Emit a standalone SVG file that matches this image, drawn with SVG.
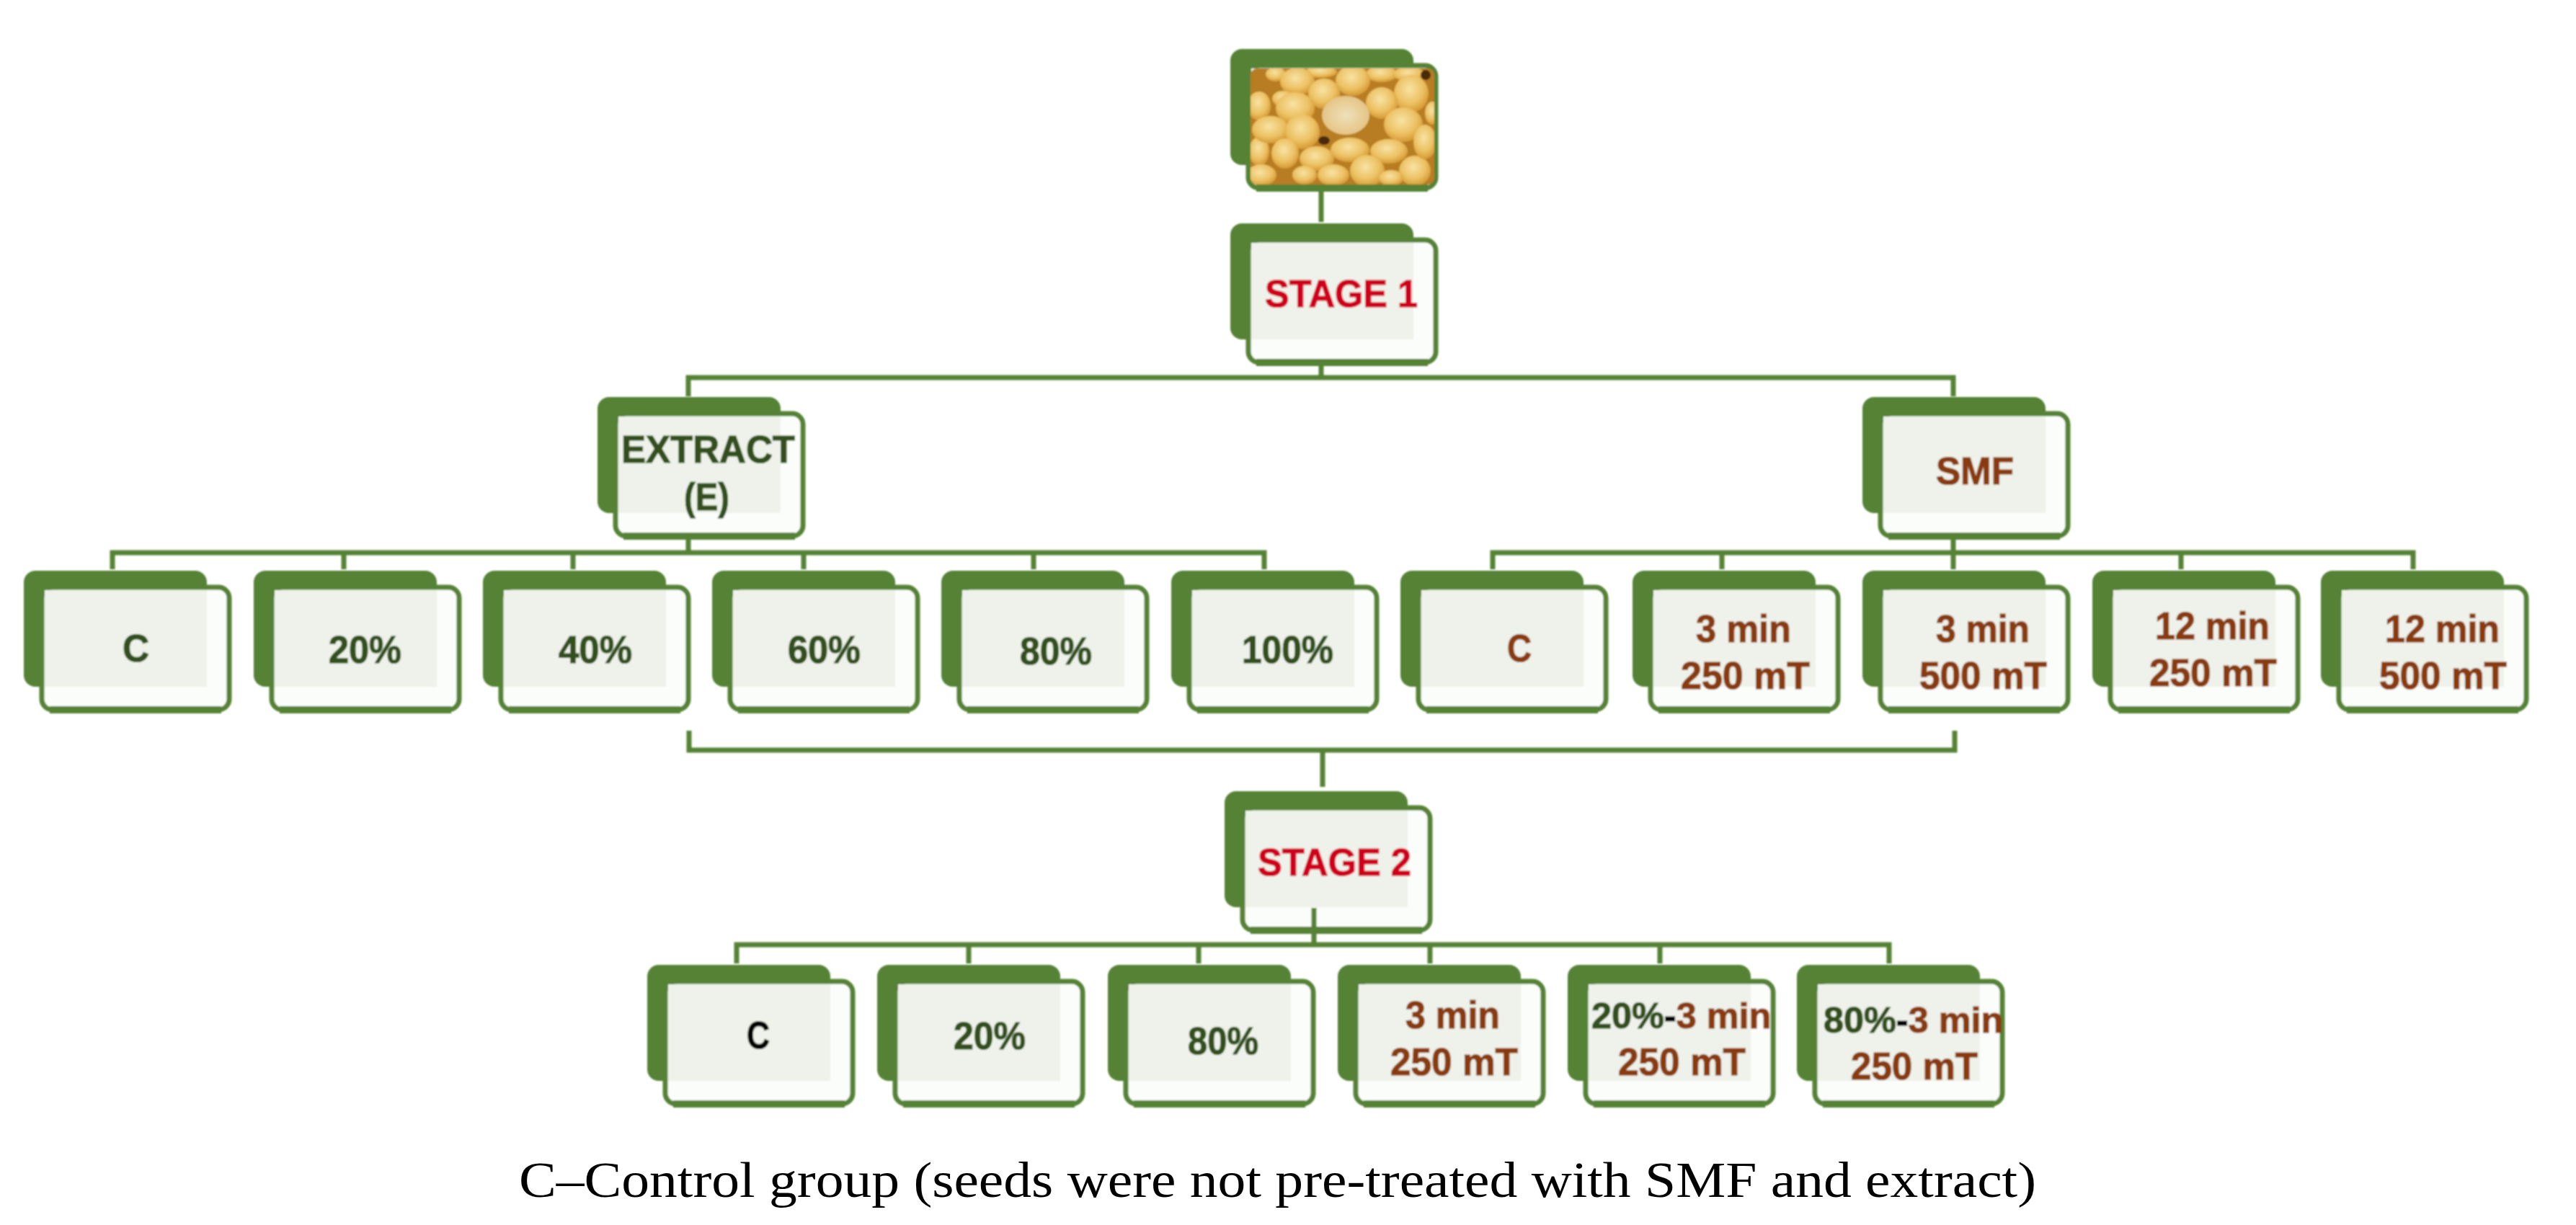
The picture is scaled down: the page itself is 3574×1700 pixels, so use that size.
<svg xmlns="http://www.w3.org/2000/svg" width="3574" height="1700" viewBox="0 0 3574 1700">
<style>
text{font-family:"Liberation Sans",Arial,sans-serif;font-weight:700;font-size:54px;stroke-width:1.2px;paint-order:stroke}
text.mix{font-size:50.4px}
.g{fill:#30501c;stroke:#30501c}.b{fill:#8a3a0c;stroke:#8a3a0c}.r{fill:#d0001c;stroke:#d0001c}.k{fill:#000;stroke:#000}
.cap{font-family:"Liberation Serif","Times New Roman",serif;font-weight:400;font-size:70px;fill:#000;stroke:none}
.con{fill:none;stroke:#548235;stroke-width:7}
.bg{fill:#548235}.fr{fill:#fbfdfa;stroke:#548235;stroke-width:7}.pale{fill:#eef2ea}
</style>
<defs>
<filter id="soft" x="-2%" y="-2%" width="104%" height="104%"><feGaussianBlur stdDeviation="1"/></filter>
<radialGradient id="bean" cx="45%" cy="38%" r="65%"><stop offset="0" stop-color="#f8e3a4"/><stop offset=".6" stop-color="#ecc163"/><stop offset="1" stop-color="#d2932f"/></radialGradient>
<radialGradient id="beanp" cx="50%" cy="50%" r="60%"><stop offset="0" stop-color="#efe0bc"/><stop offset="1" stop-color="#e3bf7a"/></radialGradient>
<clipPath id="pic"><rect x="1735" y="95" width="255" height="161" rx="9"/></clipPath>
<symbol id="card" overflow="visible">
<rect class="bg" x="0" y="0" width="254" height="161" rx="16"/>
<rect class="fr" x="25" y="23" width="260" height="170" rx="15"/>
<path class="pale" d="M29 27H254V161H29Z"/>
<path fill="none" stroke="#548235" stroke-width="10" d="M36 193H274"/>
</symbol>
</defs>
<rect width="3574" height="1700" fill="#fff"/>
<g filter="url(#soft)">
<g id="node-seeds">
<use href="#card" x="1707" y="68"/>
<g clip-path="url(#pic)">
<rect x="1735" y="95" width="255" height="161" fill="#b87d24"/>
<g fill="url(#bean)">
<ellipse cx="1747" cy="147" rx="16" ry="20"/><ellipse cx="1747" cy="210" rx="14" ry="20"/>
<ellipse cx="1770" cy="103" rx="14" ry="10"/><ellipse cx="1833" cy="100" rx="22" ry="8"/>
<ellipse cx="1917" cy="103" rx="22" ry="11"/><ellipse cx="1955" cy="103" rx="22" ry="10"/>
<ellipse cx="1800" cy="113" rx="24" ry="19"/><ellipse cx="1837" cy="130" rx="22" ry="21"/>
<ellipse cx="1877" cy="112" rx="24" ry="21"/><ellipse cx="1958" cy="130" rx="24" ry="26"/>
<ellipse cx="1917" cy="143" rx="22" ry="22"/><ellipse cx="1780" cy="137" rx="15" ry="11"/>
<ellipse cx="1797" cy="150" rx="27" ry="22"/><ellipse cx="1763" cy="180" rx="26" ry="19"/>
<ellipse cx="1807" cy="183" rx="24" ry="24"/><ellipse cx="1947" cy="173" rx="27" ry="24"/>
<ellipse cx="1873" cy="208" rx="27" ry="17"/><ellipse cx="1927" cy="210" rx="26" ry="17"/>
<ellipse cx="1783" cy="213" rx="19" ry="21"/><ellipse cx="1827" cy="220" rx="24" ry="17"/>
<ellipse cx="1897" cy="237" rx="24" ry="22"/><ellipse cx="1850" cy="243" rx="22" ry="15"/>
<ellipse cx="1963" cy="237" rx="22" ry="21"/><ellipse cx="1977" cy="197" rx="16" ry="24"/>
<ellipse cx="1750" cy="243" rx="21" ry="15"/><ellipse cx="1810" cy="243" rx="17" ry="13"/>
<ellipse cx="1930" cy="247" rx="17" ry="11"/><ellipse cx="1987" cy="157" rx="10" ry="16"/>
</g>
<ellipse cx="1867" cy="160" rx="33" ry="27" fill="url(#beanp)"/>
<ellipse cx="1837" cy="195" rx="8" ry="6" fill="#4a2a08"/><ellipse cx="1978" cy="104" rx="7" ry="7" fill="#4a2a08"/>
</g>
</g>
<g id="node-stage1"><use href="#card" x="1707" y="310"/><text class="r" x="1755" y="426" textLength="212" lengthAdjust="spacingAndGlyphs">STAGE 1</text></g>
<g id="node-extract"><use href="#card" x="829" y="551"/><text class="g" x="862" y="642" textLength="241" lengthAdjust="spacingAndGlyphs">EXTRACT</text><text class="g" x="949" y="708" textLength="63" lengthAdjust="spacingAndGlyphs">(E)</text></g>
<g id="node-smf"><use href="#card" x="2584" y="551"/><text class="b" x="2686" y="672" textLength="108" lengthAdjust="spacingAndGlyphs">SMF</text></g>
<g id="node-e-c"><use href="#card" x="33" y="792"/><text class="g" x="170" y="918" textLength="37" lengthAdjust="spacingAndGlyphs">C</text></g>
<g id="node-e-20"><use href="#card" x="352" y="792"/><text class="g" x="456" y="920" textLength="101" lengthAdjust="spacingAndGlyphs">20%</text></g>
<g id="node-e-40"><use href="#card" x="670" y="792"/><text class="g" x="775" y="920" textLength="102" lengthAdjust="spacingAndGlyphs">40%</text></g>
<g id="node-e-60"><use href="#card" x="988" y="792"/><text class="g" x="1093" y="920" textLength="101" lengthAdjust="spacingAndGlyphs">60%</text></g>
<g id="node-e-80"><use href="#card" x="1306" y="792"/><text class="g" x="1415" y="922" textLength="100" lengthAdjust="spacingAndGlyphs">80%</text></g>
<g id="node-e-100"><use href="#card" x="1625" y="792"/><text class="g" x="1723" y="920" textLength="127" lengthAdjust="spacingAndGlyphs">100%</text></g>
<g id="node-s-c"><use href="#card" x="1943" y="792"/><text class="b" x="2091" y="918" textLength="34" lengthAdjust="spacingAndGlyphs">C</text></g>
<g id="node-s-3-250"><use href="#card" x="2265" y="792"/><text class="b" x="2353" y="891" textLength="132" lengthAdjust="spacingAndGlyphs">3 min</text><text class="b" x="2332" y="956" textLength="179" lengthAdjust="spacingAndGlyphs">250 mT</text></g>
<g id="node-s-3-500"><use href="#card" x="2584" y="792"/><text class="b" x="2686" y="891" textLength="130" lengthAdjust="spacingAndGlyphs">3 min</text><text class="b" x="2663" y="956" textLength="177" lengthAdjust="spacingAndGlyphs">500 mT</text></g>
<g id="node-s-12-250"><use href="#card" x="2903" y="792"/><text class="b" x="2990" y="887" textLength="159" lengthAdjust="spacingAndGlyphs">12 min</text><text class="b" x="2982" y="952" textLength="177" lengthAdjust="spacingAndGlyphs">250 mT</text></g>
<g id="node-s-12-500"><use href="#card" x="3220" y="792"/><text class="b" x="3309" y="891" textLength="159" lengthAdjust="spacingAndGlyphs">12 min</text><text class="b" x="3301" y="956" textLength="177" lengthAdjust="spacingAndGlyphs">500 mT</text></g>
<g id="node-stage2"><use href="#card" x="1699" y="1098"/><text class="r" x="1745" y="1215" textLength="213" lengthAdjust="spacingAndGlyphs">STAGE 2</text></g>
<g id="node-2-c"><use href="#card" x="898" y="1339"/><text class="k" x="1036" y="1455" textLength="32" lengthAdjust="spacingAndGlyphs">C</text></g>
<g id="node-2-20"><use href="#card" x="1217" y="1339"/><text class="g" x="1323" y="1456" textLength="100" lengthAdjust="spacingAndGlyphs">20%</text></g>
<g id="node-2-80"><use href="#card" x="1537" y="1339"/><text class="g" x="1648" y="1463" textLength="98" lengthAdjust="spacingAndGlyphs">80%</text></g>
<g id="node-2-3"><use href="#card" x="1856" y="1339"/><text class="b" x="1950" y="1427" textLength="131" lengthAdjust="spacingAndGlyphs">3 min</text><text class="b" x="1929" y="1492" textLength="177" lengthAdjust="spacingAndGlyphs">250 mT</text></g>
<g id="node-2-20-3"><use href="#card" x="2175" y="1339"/><text class="mix" x="2208" y="1427"><tspan class="g">20%</tspan><tspan class="k">-</tspan><tspan class="b">3 min</tspan></text><text class="b" x="2245" y="1492" textLength="177" lengthAdjust="spacingAndGlyphs">250 mT</text></g>
<g id="node-2-80-3"><use href="#card" x="2493" y="1339"/><text class="mix" x="2530" y="1433"><tspan class="g">80%</tspan><tspan class="k">-</tspan><tspan class="b">3 min</tspan></text><text class="b" x="2568" y="1498" textLength="176" lengthAdjust="spacingAndGlyphs">250 mT</text></g>
<g id="connectors" class="con">
<path d="M1833 262V308M1833 505V524M955 550V524H2710V550"/>
<path d="M955 747V767M156 790V767H1754V790M477 767V790M795 767V790M1115 767V790M1434 767V790"/>
<path d="M2710 747V790M2071 790V767H3348V790M2389 767V790M3026 767V790"/>
<path d="M956 1014V1041H2712V1014M1835 1041V1092M1823 1260V1311"/>
<path d="M1022 1337V1311H2621V1337M1344 1311V1337M1663 1311V1337M1984 1311V1337M2303 1311V1337"/>
</g>
</g>
<text id="caption" class="cap" x="720" y="1661" textLength="2105" lengthAdjust="spacingAndGlyphs">C–Control group (seeds were not pre-treated with SMF and extract)</text>
</svg>
